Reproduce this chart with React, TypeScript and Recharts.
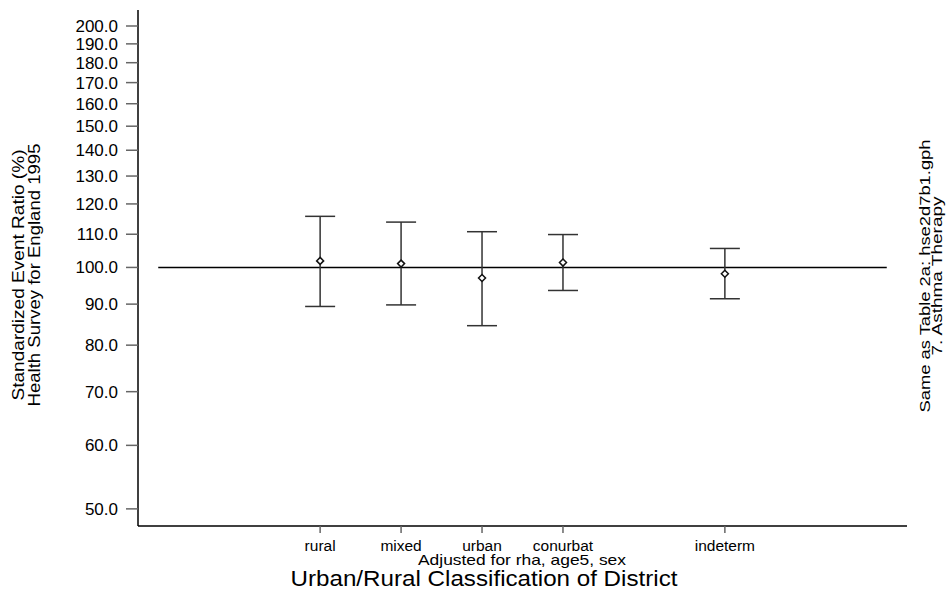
import React from 'react';
import { ComposedChart, Scatter, XAxis, YAxis, ErrorBar, ReferenceLine } from 'recharts';

const categories = ['rural', 'mixed', 'urban', 'conurbat', 'indeterm'];
const positions = [1, 2, 3, 4, 6];
const ratio = [101.9, 101.1, 97.0, 101.4, 98.2];
const lower = [89.4, 89.8, 84.6, 93.6, 91.4];
const upper = [115.8, 113.9, 110.8, 109.9, 105.6];
const yTicks = [50, 60, 70, 80, 90, 100, 110, 120, 130, 140, 150, 160, 170, 180, 190, 200];

const data = categories.map((c, i) => ({
  name: c,
  x: positions[i],
  y: ratio[i],
  err: [ratio[i] - lower[i], upper[i] - ratio[i]],
}));

const FONT = '"Liberation Sans", Arial, Helvetica, sans-serif';

const Marker = (props: any) => {
  const { cx, cy } = props;
  if (cx == null || cy == null) return null;
  const r = 3.5;
  return (
    <path
      d={`M${cx},${cy - r} L${cx + r},${cy} L${cx},${cy + r} L${cx - r},${cy} Z`}
      fill="#fff"
      stroke="#111"
      strokeWidth={1.5}
    />
  );
};

export default function App() {
  return (
    <div style={{ position: 'absolute', left: 0, top: 0, width: 952, height: 590, background: '#fff' }}>
      <ComposedChart width={952} height={590} data={data} margin={{ top: 10, right: 45, bottom: 34, left: 78 }}>
        <XAxis
          type="number"
          dataKey="x"
          domain={[-1.25, 8.25]}
          ticks={positions}
          tickFormatter={(v: number) => categories[positions.indexOf(v)] ?? ''}
          height={30}
          tickSize={7}
          tickMargin={7}
          axisLine={{ stroke: '#000', strokeWidth: 1.5 }}
          tickLine={{ stroke: '#666', strokeWidth: 1.5 }}
          tick={{ fill: '#000', fontSize: 15.5, fontFamily: FONT }}
          allowDataOverflow
          interval={0}
        />
        <YAxis
          type="number"
          dataKey="y"
          scale="log"
          domain={[47.6, 209.4]}
          ticks={yTicks}
          tickFormatter={(v: number) => v.toFixed(1)}
          width={60}
          tickSize={12}
          tickMargin={8}
          axisLine={{ stroke: '#000', strokeWidth: 1.5 }}
          tickLine={{ stroke: '#666', strokeWidth: 1.5 }}
          tick={{ fill: '#000', fontSize: 17, fontFamily: FONT }}
          allowDataOverflow
          interval={0}
        />
        <ReferenceLine
          segment={[{ x: -1, y: 100 }, { x: 8, y: 100 }]}
          stroke="#000"
          strokeWidth={1.5}
          ifOverflow="visible"
        />
        <Scatter dataKey="y" isAnimationActive={false} shape={Marker}>
          <ErrorBar dataKey="err" direction="y" width={15} stroke="#333" strokeWidth={1.5} isAnimationActive={false} />
        </Scatter>
      </ComposedChart>
      <svg width={952} height={590} style={{ position: 'absolute', left: 0, top: 0, pointerEvents: 'none' }}>
        <g fontFamily={FONT} fill="#000">
          <text x={24} y={275} fontSize={17} textAnchor="middle" textLength={251} lengthAdjust="spacingAndGlyphs" transform="rotate(-90 24 275)">
            Standardized Event Ratio (%)
          </text>
          <text x={40} y={275} fontSize={17} textAnchor="middle" textLength={263} lengthAdjust="spacingAndGlyphs" transform="rotate(-90 40 275)">
            Health Survey for England 1995
          </text>
          <text x={522} y={565} fontSize={15} textAnchor="middle" textLength={208} lengthAdjust="spacingAndGlyphs">
            Adjusted for rha, age5, sex
          </text>
          <text x={484} y={586} fontSize={22} textAnchor="middle" textLength={387} lengthAdjust="spacingAndGlyphs">
            Urban/Rural Classification of District
          </text>
          <text x={930} y={276} fontSize={15} textAnchor="middle" textLength={273} lengthAdjust="spacingAndGlyphs" transform="rotate(-90 930 276)">
            Same as Table 2a: hse2d7b1.gph
          </text>
          <text x={942} y={276} fontSize={15} textAnchor="middle" textLength={159} lengthAdjust="spacingAndGlyphs" transform="rotate(-90 942 276)">
            7.  Asthma Therapy
          </text>
        </g>
      </svg>
    </div>
  );
}
